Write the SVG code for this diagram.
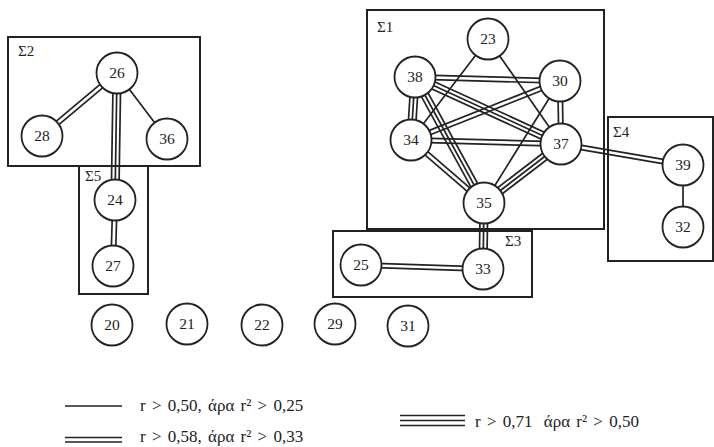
<svg xmlns="http://www.w3.org/2000/svg" width="714" height="447" viewBox="0 0 714 447">
<style>
  .box{fill:none;stroke:#222;stroke-width:2}
  .node circle{fill:#fff;stroke:#222;stroke-width:1.8}
  .node text,.lbl,.leg{font-family:"Liberation Serif","Times New Roman",serif;fill:#222}
  .node text{font-size:15.5px;text-anchor:middle}
  .lbl{font-size:15px}
  .leg{font-size:17px;word-spacing:2px}
  .edges line,.legend line{stroke:#222;stroke-width:1.7;fill:none}
</style>
<rect width="714" height="447" fill="#fff"/>
<g id="groups">
  <rect class="box" x="8" y="37" width="192" height="129"/>
  <text class="lbl" x="18" y="56">Σ2</text>
  <rect class="box" x="79" y="166" width="69" height="128"/>
  <text class="lbl" x="85" y="181">Σ5</text>
  <rect class="box" x="367" y="10" width="237" height="219"/>
  <text class="lbl" x="377" y="32">Σ1</text>
  <rect class="box" x="333" y="231" width="199" height="66"/>
  <text class="lbl" x="505" y="246">Σ3</text>
  <rect class="box" x="608" y="117" width="105" height="144"/>
  <text class="lbl" x="613" y="137">Σ4</text>
</g>
<g id="connectors" class="edges">
  <!-- single -->
  <line x1="117" y1="73" x2="167" y2="139"/>
  <line x1="488" y1="39" x2="411" y2="140"/>
  <line x1="488" y1="39" x2="561" y2="144"/>
  <line x1="560" y1="81" x2="484" y2="203"/>
  <line x1="683" y1="165" x2="683" y2="227"/>
  <!-- double -->
  <g transform="translate(117 73) rotate(139.97)"><line x2="98" y1="-2.2" y2="-2.2"/><line x2="98" y1="2.2" y2="2.2"/></g>
  <g transform="translate(115 200) rotate(91.74)"><line x2="66" y1="-2.2" y2="-2.2"/><line x2="66" y1="2.2" y2="2.2"/></g>
  <g transform="translate(415 77) rotate(1.58)"><line x2="145" y1="-2.2" y2="-2.2"/><line x2="145" y1="2.2" y2="2.2"/></g>
  <g transform="translate(560 81) rotate(158.4)"><line x2="160" y1="-2.2" y2="-2.2"/><line x2="160" y1="2.2" y2="2.2"/></g>
  <g transform="translate(560 81) rotate(89.09)"><line x2="63" y1="-2.2" y2="-2.2"/><line x2="63" y1="2.2" y2="2.2"/></g>
  <g transform="translate(411 140) rotate(1.53)"><line x2="150" y1="-2.2" y2="-2.2"/><line x2="150" y1="2.2" y2="2.2"/></g>
  <g transform="translate(411 140) rotate(40.8)"><line x2="96" y1="-2.2" y2="-2.2"/><line x2="96" y1="2.2" y2="2.2"/></g>
  <g transform="translate(561 144) rotate(9.77)"><line x2="124" y1="-2.2" y2="-2.2"/><line x2="124" y1="2.2" y2="2.2"/></g>
  <g transform="translate(361 265) rotate(1.88)"><line x2="122" y1="-2.2" y2="-2.2"/><line x2="122" y1="2.2" y2="2.2"/></g>
  <!-- triple -->
  <g transform="translate(117 73) rotate(90.9)"><line x2="127" y1="-3.8" y2="-3.8"/><line x2="127"/><line x2="127" y1="3.8" y2="3.8"/></g>
  <g transform="translate(415 77) rotate(93.63)"><line x2="63" y1="-3.8" y2="-3.8"/><line x2="63"/><line x2="63" y1="3.8" y2="3.8"/></g>
  <g transform="translate(415 77) rotate(24.65)"><line x2="161" y1="-3.8" y2="-3.8"/><line x2="161"/><line x2="161" y1="3.8" y2="3.8"/></g>
  <g transform="translate(415 77) rotate(61.29)"><line x2="144" y1="-3.8" y2="-3.8"/><line x2="144"/><line x2="144" y1="3.8" y2="3.8"/></g>
  <g transform="translate(561 144) rotate(142.54)"><line x2="97" y1="-3.8" y2="-3.8"/><line x2="97"/><line x2="97" y1="3.8" y2="3.8"/></g>
  <g transform="translate(484 203) rotate(90.87)"><line x2="66" y1="-3.8" y2="-3.8"/><line x2="66"/><line x2="66" y1="3.8" y2="3.8"/></g>
</g>
<g id="n26" class="node"><circle cx="117" cy="73" r="20.5"/><text x="117" y="78">26</text></g>
<g id="n28" class="node"><circle cx="42" cy="136" r="20.5"/><text x="42" y="141">28</text></g>
<g id="n36" class="node"><circle cx="167" cy="139" r="20.5"/><text x="167" y="144">36</text></g>
<g id="n24" class="node"><circle cx="115" cy="200" r="20.5"/><text x="115" y="205">24</text></g>
<g id="n27" class="node"><circle cx="113" cy="266" r="20.5"/><text x="113" y="271">27</text></g>
<g id="n23" class="node"><circle cx="488" cy="39" r="20.5"/><text x="488" y="44">23</text></g>
<g id="n38" class="node"><circle cx="415" cy="77" r="20.5"/><text x="415" y="82">38</text></g>
<g id="n30" class="node"><circle cx="560" cy="81" r="20.5"/><text x="560" y="86">30</text></g>
<g id="n34" class="node"><circle cx="411" cy="140" r="20.5"/><text x="411" y="145">34</text></g>
<g id="n37" class="node"><circle cx="561" cy="144" r="20.5"/><text x="561" y="149">37</text></g>
<g id="n35" class="node"><circle cx="484" cy="203" r="20.5"/><text x="484" y="208">35</text></g>
<g id="n25" class="node"><circle cx="361" cy="265" r="20.5"/><text x="361" y="270">25</text></g>
<g id="n33" class="node"><circle cx="483" cy="269" r="20.5"/><text x="483" y="274">33</text></g>
<g id="n39" class="node"><circle cx="683" cy="165" r="20.5"/><text x="683" y="170">39</text></g>
<g id="n32" class="node"><circle cx="683" cy="227" r="20.5"/><text x="683" y="232">32</text></g>
<g id="n20" class="node"><circle cx="112" cy="325" r="20.5"/><text x="112" y="330">20</text></g>
<g id="n21" class="node"><circle cx="187" cy="324" r="20.5"/><text x="187" y="329">21</text></g>
<g id="n22" class="node"><circle cx="262" cy="325" r="20.5"/><text x="262" y="330">22</text></g>
<g id="n29" class="node"><circle cx="335" cy="324" r="20.5"/><text x="335" y="329">29</text></g>
<g id="n31" class="node"><circle cx="408" cy="326" r="20.5"/><text x="408" y="331">31</text></g>
<g id="legend" class="legend">
  <line x1="65" y1="406" x2="122" y2="406"/>
  <text class="leg" x="140" y="411">r &gt; 0,50, άρα r² &gt; 0,25</text>
  <line x1="65" y1="437.5" x2="122" y2="437.5"/>
  <line x1="65" y1="442" x2="122" y2="442"/>
  <text class="leg" x="140" y="442">r &gt; 0,58, άρα r² &gt; 0,33</text>
  <line x1="400" y1="415.5" x2="465" y2="415.5"/>
  <line x1="400" y1="420.5" x2="465" y2="420.5"/>
  <line x1="400" y1="425.5" x2="465" y2="425.5"/>
  <text class="leg" x="475" y="427">r &gt; 0,71 <tspan dx="5">άρα r² &gt; 0,50</tspan></text>
</g>
</svg>
